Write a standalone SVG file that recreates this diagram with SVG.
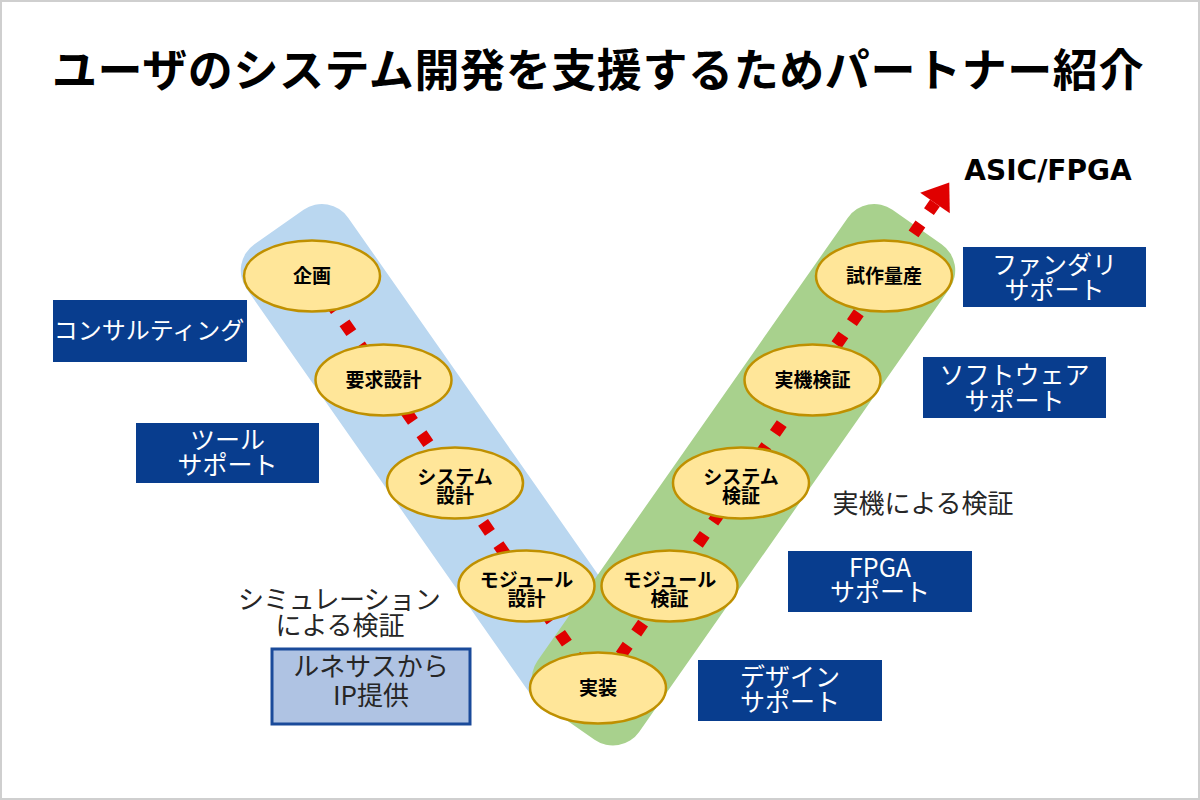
<svg xmlns="http://www.w3.org/2000/svg" width="1200" height="800" viewBox="0 0 1200 800">
<defs>
<style>
text{font-family:"Noto Sans CJK JP","Noto Sans",sans-serif}
.title{font-size:45px;font-weight:700;fill:#000;letter-spacing:0.6px}
.node ellipse{fill:#FFE699;stroke:#BF9000;stroke-width:2.5}
.node text{font-size:19px;font-weight:700;fill:#000;text-anchor:middle}
.box rect{fill:#083D8E}
.box text{font-size:25px;fill:#fff;text-anchor:middle}
.note{font-size:26px;fill:#262626;text-anchor:middle}
.dash{fill:none;stroke:#E00000;stroke-width:12;stroke-dasharray:12 15}
</style>
<marker id="head" markerUnits="userSpaceOnUse" markerWidth="40" markerHeight="40" refX="0" refY="0" viewBox="-2 -20 30 40" orient="auto">
<path d="M0,-18 L25,0 L0,18 Z" fill="#E00000"/>
</marker>
</defs>
<rect x="1" y="1" width="1198" height="798" fill="#fff" stroke="#cfcfcf" stroke-width="2"/>
<text class="title" x="598" y="87" text-anchor="middle">ユーザのシステム開発を支援するためパートナー紹介</text>

<g id="bands">
<rect transform="translate(279,227) rotate(55)" x="0" y="-62" width="570" height="124" rx="32" fill="#BAD7F0"/>
<rect transform="translate(917,227) rotate(125)" x="0" y="-62" width="605" height="124" rx="32" fill="#A8D18D"/>
</g>

<g id="connectors">
<path class="dash" d="M312,276 L598,688" stroke-dashoffset="24"/>
<path class="dash" d="M598,688 L935,203" stroke-dashoffset="14" marker-end="url(#head)"/>
</g>

<g id="n-kikaku" class="node"><ellipse cx="312" cy="276" rx="68" ry="35.5"/><text x="312" y="283">企画</text></g>
<g id="n-youkyu" class="node"><ellipse cx="383.5" cy="380" rx="68" ry="35.5"/><text x="383.5" y="387">要求設計</text></g>
<g id="n-system-sekkei" class="node"><ellipse cx="455" cy="483" rx="68" ry="35.5"/><text x="455" y="484">システム<tspan x="455" dy="19">設計</tspan></text></g>
<g id="n-module-sekkei" class="node"><ellipse cx="526.5" cy="586" rx="68" ry="35.5"/><text x="526.5" y="587">モジュール<tspan x="526.5" dy="19">設計</tspan></text></g>
<g id="n-jissou" class="node"><ellipse cx="598" cy="688" rx="68" ry="35.5"/><text x="598" y="695">実装</text></g>
<g id="n-module-kensho" class="node"><ellipse cx="669.5" cy="586" rx="68" ry="35.5"/><text x="669.5" y="587">モジュール<tspan x="669.5" dy="19">検証</tspan></text></g>
<g id="n-system-kensho" class="node"><ellipse cx="741" cy="483" rx="68" ry="35.5"/><text x="741" y="484">システム<tspan x="741" dy="19">検証</tspan></text></g>
<g id="n-jikki" class="node"><ellipse cx="812.5" cy="380" rx="68" ry="35.5"/><text x="812.5" y="387">実機検証</text></g>
<g id="n-shisaku" class="node"><ellipse cx="884" cy="276" rx="68" ry="35.5"/><text x="884" y="283">試作量産</text></g>

<g id="asic-label"><text x="1048" y="180" text-anchor="middle" style="font-family:'DejaVu Sans',sans-serif;font-size:28px;font-weight:700" fill="#000">ASIC/FPGA</text></g>

<g id="b-consulting" class="box"><rect x="53" y="300" width="194" height="62"/><text x="149" y="339" style="font-size:24px">コンサルティング</text></g>
<g id="b-tool" class="box"><rect x="136" y="423" width="183" height="60"/><text x="227.5" y="449">ツール<tspan x="227.5" dy="25">サポート</tspan></text></g>
<g id="b-foundry" class="box"><rect x="963" y="247" width="183" height="60"/><text x="1054.5" y="274">ファンダリ<tspan x="1054.5" dy="25">サポート</tspan></text></g>
<g id="b-software" class="box"><rect x="923" y="357" width="183" height="61"/><text x="1014.5" y="384">ソフトウェア<tspan x="1014.5" dy="26">サポート</tspan></text></g>
<g id="b-fpga" class="box"><rect x="788" y="551" width="184" height="61"/><text x="880" y="577">FPGA<tspan x="880" dy="24">サポート</tspan></text></g>
<g id="b-design" class="box"><rect x="698" y="660" width="184" height="61"/><text x="790" y="686">デザイン<tspan x="790" dy="25">サポート</tspan></text></g>

<g id="b-ip"><rect x="272" y="649" width="198" height="75" fill="#AFC3E3" stroke="#1A4A9A" stroke-width="3"/><text class="note" x="371" y="676">ルネサスから<tspan x="371" dy="29">IP提供</tspan></text></g>

<g id="t-sim"><text class="note" x="339" y="609"><tspan style="letter-spacing:-0.6px">シミュレーション</tspan><tspan x="340" dy="26">による検証</tspan></text></g>
<g id="t-jikki"><text class="note" x="923" y="512.5">実機による検証</text></g>
</svg>
